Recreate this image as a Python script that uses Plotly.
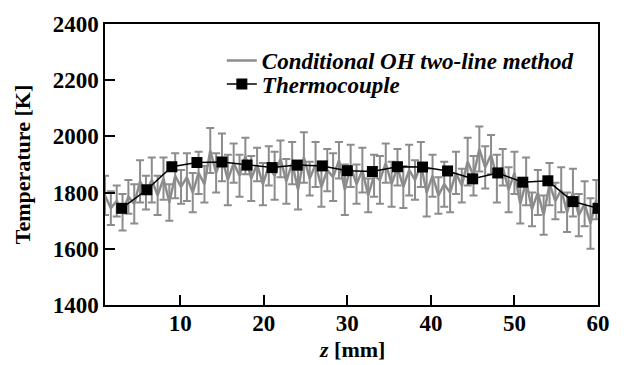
import plotly.graph_objects as go

# Conditional OH two-line method (dense profile with error bars)
z_oh = [1.0, 1.7, 2.4, 3.1, 3.8, 4.5, 5.2, 5.9, 6.6, 7.3,
        8.0, 8.7, 9.4, 10.1, 10.8, 11.5, 12.2, 12.9, 13.6, 14.3,
        15.0, 15.7, 16.4, 17.1, 17.8, 18.5, 19.2, 19.9, 20.6, 21.3,
        22.0, 22.7, 23.4, 24.1, 24.8, 25.5, 26.2, 26.9, 27.6, 28.3,
        29.0, 29.7, 30.4, 31.1, 31.8, 32.5, 33.2, 33.9, 34.6, 35.3,
        36.0, 36.7, 37.4, 38.1, 38.8, 39.5, 40.2, 40.9, 41.6, 42.3,
        43.0, 43.7, 44.4, 45.1, 45.8, 46.5, 47.2, 47.9, 48.6, 49.3,
        50.0, 50.7, 51.4, 52.1, 52.8, 53.5, 54.2, 54.9, 55.6, 56.3,
        57.0, 57.7, 58.4, 59.1, 59.8]
t_oh = [1790, 1745, 1770, 1730, 1785, 1760, 1840, 1800, 1845, 1790,
        1850, 1765, 1860, 1820, 1855, 1800, 1870, 1830, 1950, 1870,
        1925, 1845, 1905, 1860, 1930, 1850, 1900, 1830, 1895, 1860,
        1920, 1840, 1905, 1810, 1925, 1850, 1900, 1820, 1880, 1855,
        1915, 1810, 1895, 1830, 1880, 1790, 1860, 1845, 1905, 1830,
        1890, 1820, 1880, 1845, 1900, 1800, 1860, 1790, 1830, 1800,
        1870, 1825, 1910, 1860, 1955, 1890, 1935, 1850, 1890, 1810,
        1870, 1760, 1840, 1740, 1800, 1720, 1830, 1770, 1810, 1730,
        1800, 1720, 1760, 1690, 1775]
err_oh = [70, 60, 55, 65, 60, 70, 75, 60, 80, 70,
          75, 65, 80, 60, 85, 70, 75, 65, 80, 70,
          85, 90, 70, 75, 65, 80, 60, 75, 70, 85,
          65, 80, 75, 70, 90, 60, 80, 70, 75, 85,
          65, 90, 75, 70, 80, 60, 75, 85, 70, 80,
          65, 75, 90, 70, 80, 85, 75, 65, 80, 70,
          75, 60, 85, 70, 80, 75, 70, 85, 65, 80,
          75, 70, 85, 60, 80, 70, 75, 65, 80, 70,
          85, 75, 80, 90, 70]

# Thermocouple
z_tc = [3, 6, 9, 12, 15, 18, 21, 24, 27, 30, 33, 36, 39, 42, 45, 48, 51, 54, 57, 60]
t_tc = [1744, 1810, 1892, 1907, 1909, 1898, 1889, 1898, 1895, 1878,
        1875, 1892, 1891, 1877, 1849, 1870, 1837, 1842, 1768, 1744]

x_ticks = [10, 20, 30, 40, 50, 60]
y_ticks = [1400, 1600, 1800, 2000, 2200, 2400]

FONT = "Liberation Serif"
GREY = "#8c8c8c"

fig = go.Figure()
fig.add_trace(go.Scatter(
    x=z_oh, y=t_oh, mode="lines",
    name="<b><i>Conditional OH two-line method</i></b>",
    line=dict(color=GREY, width=2.5),
    error_y=dict(type="data", array=err_oh, visible=True,
                 color=GREY, thickness=2, width=4),
    legend="legend",
))
fig.add_trace(go.Scatter(
    x=z_tc, y=t_tc, mode="lines+markers",
    name="<b><i>Thermocouple</i></b>",
    line=dict(color="black", width=1.5),
    marker=dict(symbol="square", size=11, color="black"),
    legend="legend2",
))

axis_common = dict(
    showline=True, linecolor="black", linewidth=1.5, mirror=True,
    ticks="inside", ticklen=10, tickwidth=1.5, tickcolor="black",
    showgrid=False, zeroline=False,
    tickfont=dict(family=FONT, size=23, color="black", weight="bold"),
)

leg_common = dict(x=0.237, xanchor="left", yanchor="middle",
                  bgcolor="rgba(0,0,0,0)", borderwidth=0,
                  font=dict(family=FONT, size=23, color="black"),
                  itemwidth=30)

fig.update_layout(
    width=629, height=365,
    margin=dict(l=105, r=31, t=20, b=60),
    paper_bgcolor="white", plot_bgcolor="white",
    font=dict(family=FONT, color="black"),
    showlegend=True,
    legend=dict(y=0.870, **leg_common),
    legend2=dict(y=0.786, **leg_common),
    xaxis=dict(range=[1, 60], tickvals=x_ticks,
               ticktext=[str(v) for v in x_ticks],
               ticklabelstandoff=-3,
               **axis_common),
    yaxis=dict(range=[1400, 2400], tickvals=y_ticks,
               ticktext=[str(v) for v in y_ticks],
               title=dict(text="<b>Temperature [K]</b>",
                          font=dict(family=FONT, size=22, color="black"),
                          standoff=16),
               **axis_common),
    annotations=[dict(text="<b><i>z</i> [mm]</b>", xref="paper", yref="paper",
                      x=0.5, y=-0.158, xanchor="center", yanchor="middle",
                      showarrow=False,
                      font=dict(family=FONT, size=22, color="black"))],
)

fig.write_html("out.html")
